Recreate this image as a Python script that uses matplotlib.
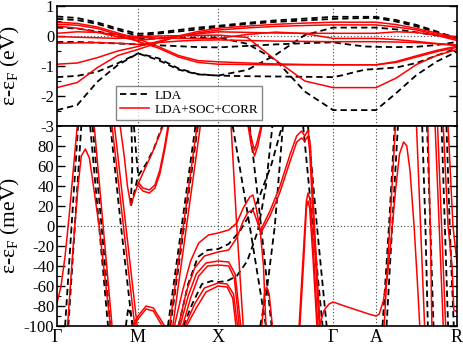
import matplotlib
matplotlib.use("Agg")
import matplotlib.pyplot as plt
from matplotlib.ticker import MultipleLocator

plt.rcParams['font.family'] = ['Liberation Serif', 'DejaVu Serif']
plt.rcParams['mathtext.fontset'] = 'custom'
plt.rcParams['mathtext.rm'] = 'Liberation Serif'
plt.rcParams['axes.unicode_minus'] = False

# high-symmetry points along the path
kpt_pos = [0.0, 1.0, 1.99, 3.41, 3.94, 4.94]
kpt_labels = ['Γ', 'M', 'X', 'Γ', 'A', 'R']

# --- upper panel (eV), common k grid ---
k_top = [0.0, 0.25, 0.5, 0.75, 1.0,
         1.25, 1.5, 1.74, 1.99,
         2.35, 2.70, 3.06, 3.41,
         3.54, 3.68, 3.81, 3.94,
         4.19, 4.44, 4.69, 4.94]

top_lda = [
    [0.65, 0.60, 0.45, 0.25, 0.07, 0.12, 0.20, 0.28, 0.34, 0.44, 0.52, 0.58, 0.64,
     0.64, 0.64, 0.64, 0.64, 0.53, 0.37, 0.15, -0.10],
    [0.57, 0.53, 0.40, 0.20, 0.00, 0.08, 0.15, 0.22, 0.30, 0.40, 0.47, 0.52, 0.57,
     0.58, 0.59, 0.60, 0.60, 0.48, 0.32, 0.12, -0.05],
    [0.28, 0.25, 0.15, 0.02, -0.10, -0.08, -0.06, -0.05, -0.05, -0.26, -0.80, -1.85, -2.47,
     -2.47, -2.47, -2.47, -2.47, -1.90, -1.30, -0.85, -0.52],
    [-0.20, -0.20, -0.22, -0.25, -0.28, -0.31, -0.34, -0.37, -0.38, -0.33, -0.28, -0.24, -0.21,
     -0.26, -0.31, -0.35, -0.36, -0.37, -0.36, -0.30, -0.20],
    [-1.37, -1.33, -1.19, -0.91, -0.58, -0.74, -1.08, -1.27, -1.32, -1.34, -1.35, -1.36, -1.37,
     -1.30, -1.20, -1.12, -1.10, -1.05, -0.90, -0.65, -0.41],
    [-2.47, -2.30, -1.52, -0.97, -0.58, -0.80, -1.12, -1.28, -1.32, -1.13, -0.63, 0.03, 0.28,
     0.28, 0.28, 0.28, 0.28, 0.22, 0.12, 0.02, -0.08],
]

top_soc = [
    [0.46, 0.42, 0.30, 0.10, -0.10, -0.35, -0.65, -0.82, -0.86, -0.90, -0.93, -0.95, -0.96,
     -0.96, -0.96, -0.96, -0.96, -0.88, -0.70, -0.52, -0.38],
    [0.39, 0.36, 0.25, 0.05, -0.18, -0.40, -0.70, -0.88, -0.94, -0.95, -0.96, -0.96, -0.96,
     -0.96, -0.96, -0.96, -0.96, -0.85, -0.66, -0.48, -0.34],
    [0.33, 0.26, 0.12, -0.03, -0.15, -0.08, 0.00, 0.07, 0.14, 0.12, 0.10, 0.09, 0.09,
     0.09, 0.09, 0.09, 0.09, 0.14, 0.12, 0.02, -0.15],
    [0.09, 0.14, 0.12, 0.04, -0.02, 0.00, 0.01, 0.02, 0.03, -0.05, -0.80, -1.50, -1.72,
     -1.72, -1.72, -1.72, -1.72, -1.40, -0.95, -0.65, -0.45],
    [-0.02, -0.04, -0.06, -0.08, -0.05, -0.07, -0.08, -0.08, -0.08, 0.05, 0.13, 0.08, -0.08,
     -0.08, -0.08, -0.08, -0.08, -0.12, -0.18, -0.25, -0.30],
    [-0.24, -0.23, -0.22, -0.24, -0.28, -0.22, -0.17, -0.14, -0.13, -0.15, -0.17, -0.18, -0.19,
     -0.19, -0.19, -0.19, -0.19, -0.20, -0.22, -0.26, -0.32],
    [-0.94, -0.90, -0.72, -0.50, -0.35, -0.18, -0.02, 0.10, 0.20, 0.27, 0.32, 0.35, 0.37,
     0.37, 0.37, 0.37, 0.37, 0.30, 0.20, 0.05, -0.10],
    [-1.72, -1.55, -1.05, -0.65, -0.45, -0.22, 0.00, 0.15, 0.26, 0.33, 0.39, 0.43, 0.46,
     0.46, 0.46, 0.46, 0.46, 0.38, 0.25, 0.10, -0.05],
]

# --- lower panel (meV), each band as (k, E) points ---
low_lda = [
    [(0.10, -100), (0.18, 0), (0.26, 100)],
    [(0.14, -100), (0.22, 0), (0.30, 100)],
    [(0.41, 100), (0.52, 0), (0.63, -100)],
    [(0.44, 100), (0.55, 0), (0.66, -100)],
    [(0.66, 100), (0.79, 0), (0.93, -100)],
    [(0.92, 100), (0.93, 60), (0.91, 19), (0.95, 32), (1.0, 50), (1.10, 62), (1.20, 78), (1.30, 100)],
    [(0.95, 100), (0.98, 70), (1.0, 53)],
    [(0.85, -100), (0.88, -82), (0.91, -88), (0.94, -100)],
    [(1.37, -100), (1.54, 0), (1.71, 100)],
    [(1.40, -100), (1.57, 0), (1.74, 100)],
    [(1.50, -100), (1.62, -58), (1.74, -31), (1.86, -24), (1.99, -23), (2.12, -18), (2.26, -5),
     (2.48, 25), (2.65, 62), (2.78, 100)],
    [(1.56, -100), (1.67, -78), (1.79, -58), (1.91, -55), (1.99, -56), (2.10, -55), (2.22, -50),
     (2.35, -35), (2.48, -5), (2.58, 40), (2.66, 100)],
    [(2.17, 100), (2.38, 0), (2.58, -100)],
    [(2.38, 100), (2.52, 0), (2.65, -100)],
    [(2.51, -100), (2.59, -65), (2.69, 0), (2.79, 100)],
    [(3.04, 100), (3.16, 0), (3.28, -100)],
    [(3.10, 100), (3.21, 0), (3.33, -100)],
    [(4.02, -100), (4.10, 0), (4.17, 100)],
    [(4.07, -100), (4.14, 0), (4.21, 100)],
    [(4.51, 100), (4.55, 0), (4.58, -100)],
    [(4.57, 100), (4.61, 0), (4.65, -100)],
    [(4.75, 100), (4.79, 0), (4.83, -100)],
    [(4.81, 100), (4.85, 0), (4.90, -100)],
]

low_soc = [
    [(0.0, -77), (0.05, -60), (0.10, -30), (0.15, 10), (0.20, 55), (0.25, 100)],
    [(0.13, -100), (0.20, -20), (0.26, 40), (0.30, 70), (0.35, 77), (0.40, 68), (0.45, 40),
     (0.52, 0), (0.59, -50), (0.66, -100)],
    [(0.46, 100), (0.57, 0), (0.68, -100)],
    [(0.68, 100), (0.82, 0), (0.96, -100)],
    [(0.71, 100), (0.85, 0), (0.99, -100)],
    [(0.78, 100), (0.83, 70), (0.87, 40), (0.91, 21), (0.95, 30), (1.0, 42), (1.09, 58),
     (1.17, 72), (1.25, 88), (1.31, 100)],
    [(1.0, 44), (1.06, 38), (1.14, 36), (1.21, 41), (1.27, 56), (1.33, 80), (1.37, 100)],
    [(1.0, 41), (1.06, 35), (1.14, 33), (1.21, 38), (1.27, 52), (1.33, 76), (1.38, 100)],
    [(0.93, -100), (1.0, -90), (1.10, -80), (1.19, -82), (1.33, -100)],
    [(0.95, -100), (1.0, -93), (1.10, -83), (1.19, -85), (1.30, -100)],
    [(1.39, -100), (1.56, 0), (1.73, 100)],
    [(1.43, -100), (1.60, 0), (1.77, 100)],
    [(1.45, -100), (1.55, -65), (1.65, -35), (1.75, -17), (1.87, -9), (1.99, -7), (2.12, -4),
     (2.22, 3), (2.30, 18), (2.38, 29), (2.42, 31), (2.46, 18), (2.51, -5)],
    [(1.50, -100), (1.60, -65), (1.70, -42), (1.82, -30), (1.99, -26), (2.12, -24), (2.22, -12),
     (2.30, 5), (2.36, 14), (2.42, 16), (2.47, 5), (2.51, -5), (2.55, -40), (2.58, -100)],
    [(1.52, -100), (1.62, -70), (1.72, -48), (1.84, -37), (1.99, -35), (2.12, -36), (2.20, -48),
     (2.27, -100)],
    [(1.55, -100), (1.65, -72), (1.75, -50), (1.86, -40), (1.99, -39), (2.12, -40), (2.19, -52),
     (2.25, -100)],
    [(1.58, -100), (1.70, -78), (1.82, -62), (1.99, -57), (2.10, -58), (2.18, -68), (2.23, -100)],
    [(1.60, -100), (1.72, -82), (1.84, -66), (1.99, -60), (2.10, -61), (2.17, -72), (2.21, -100)],
    [(2.15, 100), (2.22, 0), (2.30, -100)],
    [(2.36, 100), (2.40, 80), (2.44, 70), (2.48, 80), (2.53, 100)],
    [(2.37, 100), (2.41, 84), (2.44, 76), (2.47, 84), (2.52, 100)],
    [(2.51, -5), (2.63, 15), (2.75, 39), (2.88, 72), (2.96, 90), (3.02, 95), (3.06, 90),
     (3.10, 96), (3.13, 80), (3.18, 0), (3.22, -60), (3.25, -100)],
    [(2.51, -8), (2.63, 10), (2.75, 33), (2.88, 65), (2.96, 84), (3.02, 88), (3.06, 85),
     (3.10, 90), (3.12, 75), (3.17, 0), (3.21, -60), (3.24, -100)],
    [(2.53, -100), (2.56, -68), (2.59, -61), (2.62, -68), (2.66, -100)],
    [(2.99, -100), (3.04, -30), (3.08, 25), (3.10, 33), (3.13, 25), (3.17, -30), (3.22, -100)],
    [(3.00, -100), (3.05, -30), (3.08, 18), (3.10, 25), (3.12, 18), (3.16, -30), (3.21, -100)],
    [(3.24, -100), (3.30, -84), (3.36, -78), (3.41, -76), (3.55, -80), (3.70, -84), (3.85, -88),
     (3.94, -90), (3.98, -88), (4.03, -75), (4.08, -50), (4.13, -10), (4.18, 35), (4.23, 72),
     (4.28, 84), (4.32, 80), (4.36, 55), (4.41, 0), (4.45, -55), (4.48, -100)],
    [(4.04, -100), (4.11, 0), (4.18, 100)],
    [(4.44, 100), (4.49, 0), (4.54, -100)],
    [(4.58, 100), (4.61, 0), (4.63, -100)],
    [(4.67, 100), (4.72, 0), (4.77, -100)],
    [(4.70, 100), (4.75, 0), (4.80, -100)],
    [(4.77, 100), (4.83, 0), (4.88, -41), (4.90, -84), (4.94, -86)],
    [(4.83, 100), (4.89, 0), (4.94, -37)],
]

W, H = 463, 346
fig = plt.figure(figsize=(W / 100, H / 100), dpi=100)
ax1 = fig.add_axes([57 / W, 1 - 126 / H, 400 / W, 120 / H])
ax2 = fig.add_axes([57 / W, 1 - 326 / H, 400 / W, 200 / H])

dash = dict(color='black', lw=1.3, dashes=(3.5, 2.2))
red = dict(color='red', lw=1.1)

for E in top_lda:
    ax1.plot(k_top, E, **dash)
for E in top_soc:
    ax1.plot(k_top, E, **red)

for band in low_lda:
    ax2.plot([p[0] for p in band], [p[1] for p in band], **dash)
for band in low_soc:
    ax2.plot([p[0] for p in band], [p[1] for p in band], **red)

# legend handles
ax1.plot([], [], label='LDA', **dash)
ax1.plot([], [], label='LDA+SOC+CORR', **red)
leg = ax1.legend(loc='lower left', bbox_to_anchor=(0.1475, 0.05), borderaxespad=0,
                 fancybox=False, frameon=True, fontsize=9.5, handlelength=2.2,
                 labelspacing=0.15, borderpad=0.3, handletextpad=0.4)
leg.get_frame().set_edgecolor('#666666')
leg.get_frame().set_linewidth(1.0)

for ax, lim in ((ax1, (-3, 1)), (ax2, (-100, 100))):
    ax.set_xlim(kpt_pos[0], kpt_pos[-1])
    ax.set_ylim(*lim)
    for k in kpt_pos[1:-1]:
        ax.axvline(k, color='#444444', lw=0.8, ls=(0, (1, 2)), zorder=0)
    ax.axhline(0, color='#444444', lw=0.8, ls=(0, (1, 2)), zorder=0)
    ax.set_xticks(kpt_pos)
    ax.tick_params(axis='x', length=0)
    ax.tick_params(axis='y', which='both', direction='in', left=True, right=True,
                   labelsize=12, pad=2)
    ax.tick_params(axis='y', which='major', length=6, width=1)
    ax.tick_params(axis='y', which='minor', length=3, width=0.8)
    for s in ax.spines.values():
        s.set_linewidth(1.2)

ax1.set_xticklabels([])
ax1.yaxis.set_major_locator(MultipleLocator(1))
ax1.yaxis.set_minor_locator(MultipleLocator(0.5))
ax1.set_ylabel(r'ε-ε$_\mathrm{F}$ (eV)', fontsize=15.5)
ax1.yaxis.set_label_coords(-0.088, 0.5)

ax2.set_xticklabels(kpt_labels, fontsize=13)
ax2.tick_params(axis='x', pad=2)
ax2.set_yticks(range(-100, 81, 20))
ax2.yaxis.set_minor_locator(MultipleLocator(10))
ax2.set_ylabel(r'ε-ε$_\mathrm{F}$ (meV)', fontsize=15.5)
ax2.yaxis.set_label_coords(-0.088, 0.5)

fig.savefig('out.png', dpi=100)
